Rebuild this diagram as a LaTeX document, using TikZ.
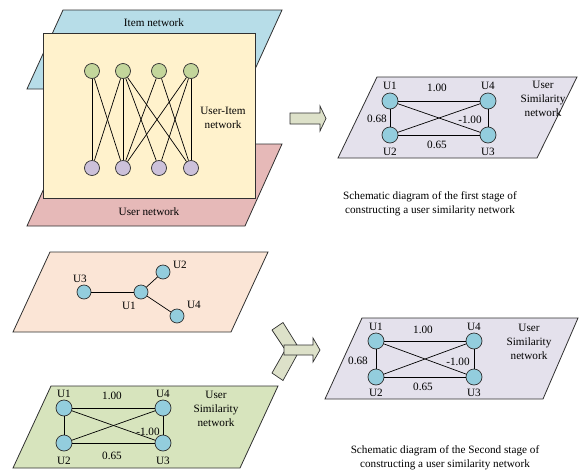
\documentclass[tikz,border=0pt]{standalone}
\usepackage{fontspec}
\setmainfont{Liberation Serif}
\definecolor{itemblue}{HTML}{B7DDE8}
\definecolor{uiyellow}{HTML}{FFF2CC}
\definecolor{userred}{HTML}{E6B9B8}
\definecolor{greennode}{HTML}{C3D69B}
\definecolor{purplenode}{HTML}{CCC1DA}
\definecolor{tealnode}{HTML}{93CDDD}
\definecolor{lavplane}{HTML}{E4E1EC}
\definecolor{peachplane}{HTML}{FBE5D6}
\definecolor{oliveplane}{HTML}{D7E4BD}
\definecolor{arrowfill}{HTML}{DDE1C9}
\definecolor{linegray}{HTML}{303030}
\begin{document}
\begin{tikzpicture}[x=1pt,y=-1pt,
  font=\fontsize{11.2}{13}\selectfont,
  plane/.style={draw=linegray, line width=0.8pt, line join=miter},
  gnode/.style={circle, draw=linegray, fill=greennode, minimum size=15pt, inner sep=0pt, line width=0.7pt},
  pnode/.style={circle, draw=linegray, fill=purplenode, minimum size=15pt, inner sep=0pt, line width=0.7pt},
  unode/.style={circle, draw=linegray, fill=tealnode, minimum size=16pt, inner sep=0pt, line width=0.7pt},
  snode/.style={circle, draw=linegray, fill=tealnode, minimum size=14pt, inner sep=0pt, line width=0.7pt},
  edge/.style={draw=black, line width=0.7pt},
  lbl/.style={inner sep=0pt, text=black},
  multi/.style={inner sep=0pt, align=center, font=\fontsize{11.2}{14}\selectfont},
  arrowshape/.style={draw=linegray, fill=arrowfill, line width=0.7pt, line join=miter}
]
\useasboundingbox (0,0) rectangle (582,472);

% ---------------- top-left: user-item network ----------------
\draw[plane, fill=itemblue] (63,10) -- (282,10) -- (246,89) -- (27,89) -- cycle;
\draw[plane, fill=userred] (64,144) -- (282,144) -- (245,226) -- (27,226) -- cycle;
\draw[plane, fill=uiyellow] (43,33) rectangle (255,198);
\node[lbl] (itemlbl) at (154,23) {Item network};
\node[lbl] (userlbl) at (149,212) {User network};
\node[multi] (uilbl) at (223,118) {User-Item\\network};

\node[gnode] (g1) at (92,71) {};
\node[gnode] (g2) at (123,71) {};
\node[gnode] (g3) at (159,71) {};
\node[gnode] (g4) at (191,71) {};
\node[pnode] (p1) at (92,168) {};
\node[pnode] (p2) at (123,168) {};
\node[pnode] (p3) at (159,168) {};
\node[pnode] (p4) at (191,168) {};
\foreach \a/\b in {g1/p1,g1/p2,g2/p1,g2/p2,g2/p3,g2/p4,g3/p2,g3/p4,g4/p2,g4/p3,g4/p4}
  \draw[edge] (\a) -- (\b);

% ---------------- arrow 1 ----------------
\draw[arrowshape] (290,113) -- (320,113) -- (320,106) -- (326,118.5) -- (320,131) -- (320,124) -- (290,124) -- cycle;

% ---------------- top-right: similarity network 1 ----------------
\draw[plane, fill=lavplane] (377,77) -- (577,77) -- (537,158) -- (338,158) -- cycle;
\node[unode] (a1) at (390,101) {};
\node[unode] (a4) at (488,101) {};
\node[unode] (a2) at (390,135) {};
\node[unode] (a3) at (488,135) {};
\draw[edge] (a1) -- (a4);
\draw[edge] (a1) -- (a2);
\draw[edge] (a4) -- (a3);
\draw[edge] (a2) -- (a3);
\draw[edge] (a1) -- (a3);
\draw[edge] (a2) -- (a4);
\node[lbl] (a1l) at (390,86) {U1};
\node[lbl] (a4l) at (488,86) {U4};
\node[lbl] (a2l) at (390,152) {U2};
\node[lbl] (a3l) at (488,152) {U3};
\node[lbl] (aw14) at (437,88) {1.00};
\node[lbl] (aw12) at (377,119) {0.68};
\node[lbl] (aw13) at (470,120) {-1.00};
\node[lbl] (aw23) at (437,145) {0.65};
\node[multi] (atitle) at (543,99) {User\\Similarity\\network};
\node[multi] (cap1) at (430,204) {Schematic diagram of the first stage of\\constructing a user similarity network};

% ---------------- bottom-left: social network ----------------
\draw[plane, fill=peachplane] (50,252) -- (268,252) -- (231,332) -- (13,332) -- cycle;
\node[snode] (s3) at (84,292) {};
\node[snode] (s1) at (141,292) {};
\node[snode] (s2) at (163,272) {};
\node[snode] (s4) at (177,316) {};
\draw[edge] (s3) -- (s1);
\draw[edge] (s1) -- (s2);
\draw[edge] (s1) -- (s4);
\node[lbl] (s3l) at (80,279) {U3};
\node[lbl] (s1l) at (129,306) {U1};
\node[lbl] (s2l) at (180,265) {U2};
\node[lbl] (s4l) at (194,305) {U4};

% ---------------- bottom-left: similarity network ----------------
\draw[plane, fill=oliveplane] (51,386) -- (278,386) -- (240,468) -- (13,468) -- cycle;
\node[unode] (b1) at (64,408) {};
\node[unode] (b4) at (163,408) {};
\node[unode] (b2) at (64,443) {};
\node[unode] (b3) at (163,443) {};
\draw[edge] (b1) -- (b4);
\draw[edge] (b1) -- (b2);
\draw[edge] (b4) -- (b3);
\draw[edge] (b2) -- (b3);
\draw[edge] (b1) -- (b3);
\draw[edge] (b2) -- (b4);
\node[lbl] (b1l) at (64,394) {U1};
\node[lbl] (b4l) at (163,394) {U4};
\node[lbl] (b2l) at (64,461) {U2};
\node[lbl] (b3l) at (163,461) {U3};
\node[lbl] (bw14) at (112,396) {1.00};
\node[lbl] (bw13) at (148,432) {-1.00};
\node[lbl] (bw23) at (112,456) {0.65};
\node[multi] (btitle) at (216,409) {User\\Similarity\\network};

% ---------------- merge arrow ----------------
\draw[arrowshape] (272,330) -- (283,322.5) -- (297,345) -- (284,348) -- cycle;
\draw[arrowshape] (272,373) -- (283,380.5) -- (297,355) -- (284,352) -- cycle;
\draw[arrowshape] (284,345) -- (313,345) -- (313,338) -- (320,350) -- (313,362) -- (313,355) -- (284,355) -- cycle;

% ---------------- bottom-right: similarity network 2 ----------------
\draw[plane, fill=lavplane] (362,318) -- (578,318) -- (543,399) -- (325,399) -- cycle;
\node[unode] (c1) at (376,341) {};
\node[unode] (c4) at (474,341) {};
\node[unode] (c2) at (376,377) {};
\node[unode] (c3) at (474,377) {};
\draw[edge] (c1) -- (c4);
\draw[edge] (c1) -- (c2);
\draw[edge] (c4) -- (c3);
\draw[edge] (c2) -- (c3);
\draw[edge] (c1) -- (c3);
\draw[edge] (c2) -- (c4);
\node[lbl] (c1l) at (376,327) {U1};
\node[lbl] (c4l) at (474,327) {U4};
\node[lbl] (c2l) at (376,393) {U2};
\node[lbl] (c3l) at (474,393) {U3};
\node[lbl] (cw14) at (423,330) {1.00};
\node[lbl] (cw12) at (358,361) {0.68};
\node[lbl] (cw13) at (458,362) {-1.00};
\node[lbl] (cw23) at (423,387) {0.65};
\node[multi] (ctitle) at (529,342) {User\\Similarity\\network};
\node[multi] (cap2) at (445,458) {Schematic diagram of the Second stage of\\constructing a user similarity network};
\end{tikzpicture}
\end{document}
